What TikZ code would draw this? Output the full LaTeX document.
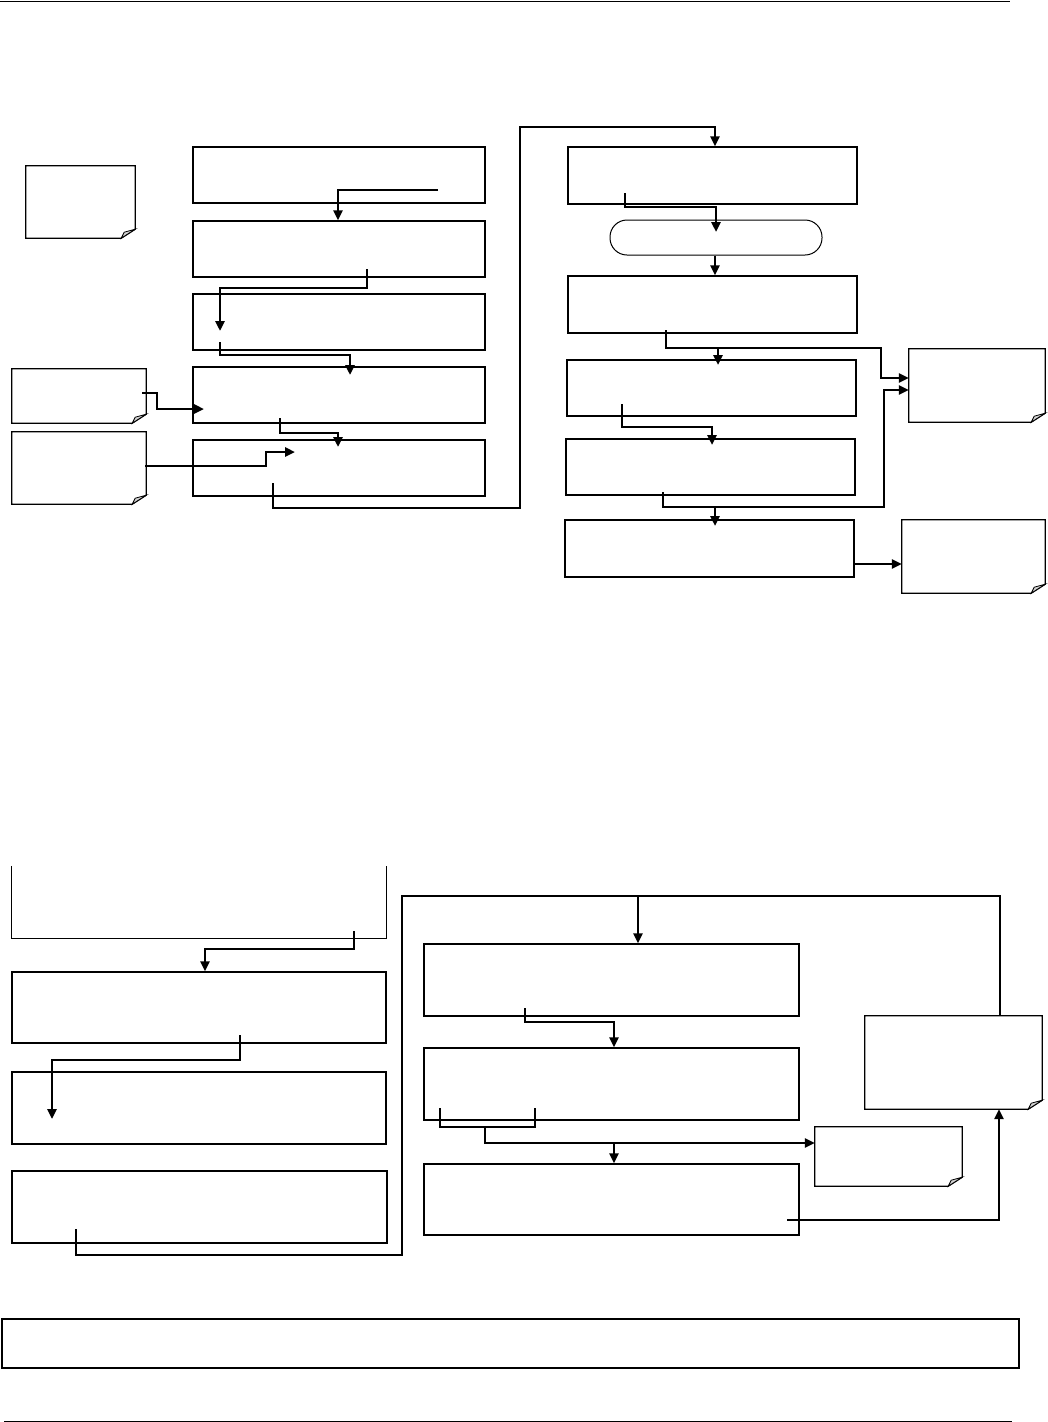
\documentclass[tikz,border=0pt]{standalone}
\usetikzlibrary{arrows.meta,fit,calc}
\tikzset{
  boxst/.style={draw, line width=1.3pt, inner sep=0pt},
  pillst/.style={draw, line width=1pt, inner sep=0pt, rounded corners=17pt},
  holder/.style={inner sep=0pt},
  notest/.style={draw, line width=1.3pt, fill=white},
  foldst/.style={draw, line width=0.8pt, fill=gray!35},
  conn/.style={line width=2.8pt, line join=miter},
  arr/.style={conn, -{Triangle[length=10pt,width=9pt]}},
  rule/.style={line width=1pt}
}
\newcommand\mkbox[5]{%
  \coordinate (#1-nw) at (#2,#3); \coordinate (#1-se) at (#4,#5);
  \node[boxst, fit=(#1-nw)(#1-se)] (#1) {};}
\newcommand\mknote[5]{%
  \coordinate (#1-nw) at (#2,#3); \coordinate (#1-se) at (#4,#5);
  \node[holder, fit=(#1-nw)(#1-se)] (#1) {};
  \draw[notest] (#1.north west) -- (#1.north east) -- ([yshift=9pt]#1.south east)
     -- ([xshift=-14pt]#1.south east) -- (#1.south west) -- cycle;
  \draw[foldst] ([yshift=9pt]#1.south east) -- ([xshift=-14pt]#1.south east)
     -- ([xshift=-11pt,yshift=6pt]#1.south east) -- cycle;}
\begin{document}
\begin{tikzpicture}[x=1pt,y=-1pt]
\useasboundingbox (0,0) rectangle (1048,1422);
% page rules
\coordinate (ht0) at (0,1); \coordinate (ht1) at (1010,1);
\draw[rule] (ht0) -- (ht1);
\coordinate (ft0) at (4,1421); \coordinate (ft1) at (1012,1421);
\draw[rule] (ft0) -- (ft1);

% ---------- upper left ----------
\mknote{nA}{26}{166}{135}{238}
\mknote{nB}{12}{369}{146}{423}
\mknote{nC}{12}{432}{146}{504}
\mkbox{b1}{193}{147}{485}{203}
\mkbox{b2}{193}{221}{485}{277}
\mkbox{b3}{193}{294}{485}{350}
\mkbox{b4}{193}{367}{485}{423}
\mkbox{b5}{193}{440}{485}{496}

% ---------- upper right ----------
\mkbox{r1}{568}{147}{857}{204}
\coordinate (p-nw) at (610,220); \coordinate (p-se) at (822,255);
\node[pillst, fit=(p-nw)(p-se)] (pill) {};
\mkbox{r2}{568}{276}{857}{333}
\mkbox{r3}{567}{360}{856}{416}
\mkbox{r4}{566}{439}{855}{495}
\mkbox{r5}{565}{520}{854}{577}
\mknote{nD}{909}{349}{1045}{422}
\mknote{nE}{902}{520}{1045}{593}

% ---------- lower ----------
\coordinate (l1-nw) at (12,866); \coordinate (l1-se) at (386,938);
\node[holder, fit=(l1-nw)(l1-se)] (l1) {};
\draw[line width=1.3pt] (l1.north west) -- (l1.south west) -- (l1.south east) -- (l1.north east);
\mkbox{l2}{12}{972}{386}{1043}
\mkbox{l3}{12}{1072}{386}{1144}
\mkbox{l4}{12}{1171}{387}{1243}
\mkbox{m1}{424}{944}{799}{1016}
\mkbox{m2}{424}{1048}{799}{1120}
\mkbox{m3}{424}{1164}{799}{1235}
\mknote{nF}{865}{1016}{1042}{1109}
\mknote{nG}{815}{1127}{962}{1186}
\mkbox{wide}{2}{1319}{1019}{1368}

% ---------- connectors upper left ----------
\coordinate (s1) at (438,190);
\draw[arr] (s1) -| (338,0 |- b2.north);
\coordinate (s2) at (367,269); \coordinate (e2) at (220,331);
\draw[arr] (s2) -- (367,288) -| (e2);
\coordinate (s3) at (220,342); \coordinate (e3) at (350,375);
\draw[arr] (s3) -- (220,355) -| (e3);
\coordinate (s4) at (142,393); \coordinate (e4) at (204,409);
\draw[arr] (s4) -- (157,393) |- (e4);
\coordinate (s5) at (280,418); \coordinate (e5) at (338,447);
\draw[arr] (s5) -- (280,433) -| (e5);
\coordinate (s6) at (145,466); \coordinate (e6) at (295,452);
\draw[arr] (s6) -- (266,466) |- (e6);
\coordinate (s7) at (273,483);
\draw[arr] (s7) -- (273,508) -- (520,508) -- (520,127) -| (715,0 |- r1.north);

% ---------- connectors upper right ----------
\coordinate (t1) at (625,193); \coordinate (u1) at (716,232);
\draw[arr] (t1) -- (625,207) -| (u1);
\draw[arr] (715,0 |- pill.south) -- (715,0 |- r2.north);
\coordinate (t3) at (666,330);
\draw[arr] (t3) -- (666,348) -- (881,348) |- (nD.west |- 0,378);
\coordinate (j3) at (718,348); \coordinate (u3) at (718,365);
\draw[arr] (j3) -- (u3);
\coordinate (t4) at (622,404); \coordinate (u4) at (712,445);
\draw[arr] (t4) -- (622,427) -| (u4);
\coordinate (t5) at (663,492);
\draw[arr] (t5) -- (663,507) -- (884,507) |- (nD.west |- 0,390);
\coordinate (j5) at (715,507); \coordinate (u5) at (715,526);
\draw[arr] (j5) -- (u5);
\draw[arr] (r5.east |- 0,564) -- (nE.west |- 0,564);

% ---------- connectors lower ----------
\coordinate (v1) at (354,931);
\draw[arr] (v1) -- (354,949) -| (205,0 |- l2.north);
\coordinate (v2) at (240,1035); \coordinate (w2) at (52,1119);
\draw[arr] (v2) -- (240,1060) -| (w2);
\coordinate (v3) at (76,1229);
\draw[conn] (v3) -- (76,1255) -- (402,1255) -- (402,896) -| (nF.north -| 1000,0);
\coordinate (j6) at (638,896);
\draw[arr] (j6) -- (638,0 |- m1.north);
\coordinate (v4) at (525,1008);
\draw[arr] (v4) -- (525,1022) -| (614,0 |- m2.north);
\coordinate (k1) at (440,1108); \coordinate (k2) at (535,1108);
\draw[conn] (k1) -- (440,1127) -- (535,1127) -- (k2);
\coordinate (j7) at (485,1127);
\draw[arr] (j7) -- (485,1143) -- (nG.west |- 0,1143);
\coordinate (j8) at (614,1143);
\draw[arr] (j8) -- (614,0 |- m3.north);
\coordinate (v6) at (787,1220);
\draw[arr] (v6) -| (nF.south -| 999,0);
\end{tikzpicture}
\end{document}
